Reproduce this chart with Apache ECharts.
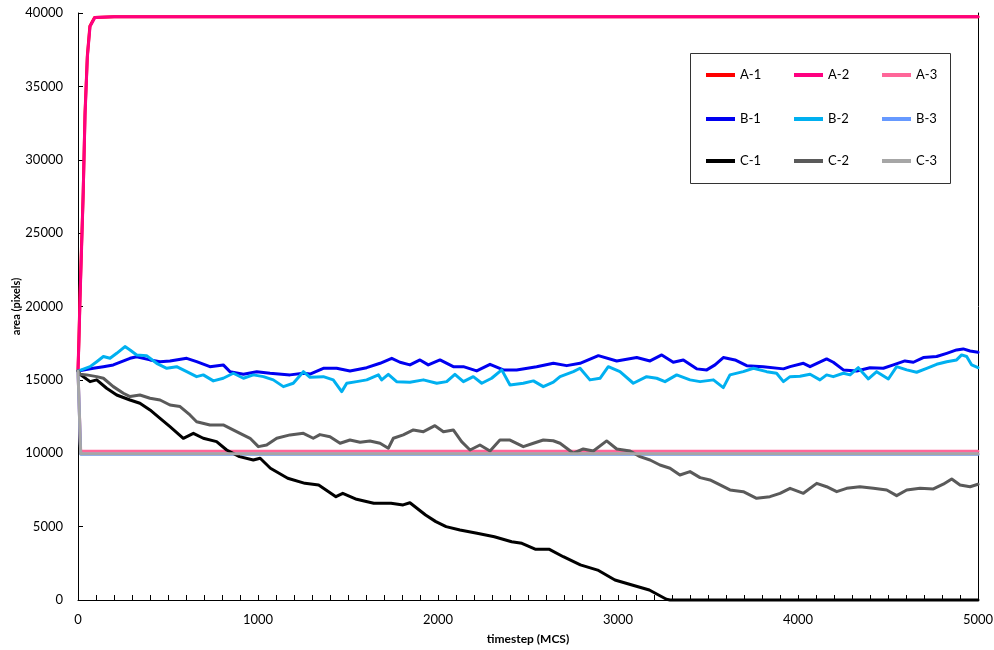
<!DOCTYPE html>
<html>
<head>
<meta charset="utf-8">
<script src="https://cdn.jsdelivr.net/npm/echarts@6/dist/echarts.min.js"></script>
<style>
  html, body { margin: 0; padding: 0; background: #fff; }
  #chart { width: 994px; height: 650px; }
</style>
</head>
<body>
<div id="chart"></div>
<script>
// Cell area (pixels) against timestep (MCS) for nine runs, [timestep, area]
const seriesA1 = [[0,15600],[5,17800],[11,20600],[20,24300],[29,27800],[39,33200],[52,37100],[66,39100],[92,39700],[200,39740],[1000,39740],[2000,39740],[3000,39740],[4000,39740],[5000,39740]];
const seriesA2 = [[0,15600],[5,17500],[11,20400],[20,24000],[28,27300],[39,33000],[52,37000],[67,39100],[94,39700],[200,39740],[1000,39740],[2000,39740],[3000,39740],[4000,39740],[5000,39740]];
const seriesA3 = [[0,15600],[15,10130],[1000,10130],[2000,10130],[3000,10130],[4000,10130],[5000,10130]];
const seriesB1 = [[0,15600],[11,15680],[85,15790],[141,15900],[196,16020],[289,16470],[326,16580],[400,16360],[456,16240],[511,16290],[604,16470],[659,16240],[733,15900],[807,16020],[844,15560],[919,15380],[993,15560],[1067,15450],[1178,15340],[1252,15450],[1289,15400],[1363,15790],[1437,15790],[1511,15610],[1604,15830],[1678,16130],[1743,16470],[1789,16200],[1844,16020],[1900,16360],[1946,16020],[2011,16360],[2085,15900],[2141,15900],[2215,15610],[2289,16060],[2363,15680],[2437,15680],[2548,15900],[2641,16130],[2715,15970],[2789,16130],[2891,16650],[2993,16290],[3104,16520],[3178,16290],[3243,16700],[3307,16200],[3363,16360],[3437,15750],[3493,15680],[3539,16020],[3585,16520],[3650,16360],[3715,15970],[3807,15900],[3919,15750],[3956,15900],[4030,16130],[4067,15900],[4159,16430],[4196,16200],[4252,15680],[4326,15610],[4400,15830],[4474,15790],[4530,16020],[4594,16290],[4641,16200],[4696,16520],[4770,16590],[4826,16810],[4881,17040],[4918,17110],[4956,16970],[5000,16880]];
const seriesB2 = [[0,15600],[11,15680],[67,15900],[104,16240],[141,16590],[178,16470],[215,16810],[261,17270],[289,17040],[326,16700],[381,16650],[437,16130],[493,15790],[548,15900],[604,15560],[659,15220],[696,15340],[752,14930],[807,15110],[863,15450],[919,15110],[974,15340],[1030,15220],[1085,15000],[1141,14540],[1196,14770],[1252,15560],[1289,15180],[1363,15220],[1418,15000],[1465,14200],[1493,14770],[1548,14880],[1604,15000],[1669,15340],[1687,15000],[1724,15380],[1770,14880],[1844,14840],[1919,15000],[1993,14770],[2048,14880],[2094,15380],[2141,14880],[2196,15220],[2243,14770],[2298,15110],[2354,15680],[2400,14650],[2474,14770],[2530,14930],[2585,14540],[2641,14840],[2678,15220],[2752,15560],[2789,15790],[2844,15000],[2900,15110],[2946,15900],[3011,15560],[3085,14770],[3159,15220],[3215,15110],[3261,14880],[3326,15340],[3400,15000],[3456,14880],[3530,15000],[3585,14470],[3622,15340],[3696,15560],[3752,15790],[3826,15560],[3881,15450],[3919,14880],[3956,15220],[4011,15250],[4067,15380],[4122,15000],[4159,15340],[4196,15220],[4252,15450],[4289,15340],[4335,15830],[4391,15060],[4437,15560],[4502,15060],[4548,15900],[4604,15680],[4659,15520],[4715,15790],[4770,16060],[4826,16240],[4881,16360],[4909,16700],[4937,16590],[4965,16020],[5000,15830]];
const seriesB3 = [[0,15600],[15,9930],[1000,9930],[2000,9930],[3000,9930],[4000,9930],[5000,9930]];
const seriesC1 = [[0,15600],[11,15380],[67,14880],[104,15000],[159,14430],[215,13970],[289,13630],[344,13410],[400,12950],[456,12380],[511,11810],[585,11020],[641,11360],[696,11020],[770,10790],[826,10220],[897,9770],[974,9540],[1012,9660],[1069,8980],[1165,8300],[1261,7950],[1337,7840],[1433,7040],[1471,7270],[1548,6860],[1643,6590],[1739,6590],[1806,6480],[1844,6630],[1931,5790],[1988,5340],[2045,5000],[2122,4770],[2217,4550],[2313,4310],[2409,3970],[2466,3860],[2543,3450],[2619,3450],[2696,2950],[2791,2390],[2887,2040],[2983,1360],[3078,1020],[3174,680],[3269,50],[3289,0],[4000,0],[5000,0]];
const seriesC2 = [[0,15600],[11,15380],[48,15340],[104,15220],[141,15110],[196,14540],[252,14090],[289,13860],[344,13970],[400,13750],[456,13630],[511,13290],[567,13180],[622,12610],[659,12150],[733,11930],[807,11930],[881,11470],[956,11020],[1002,10450],[1048,10560],[1104,11020],[1178,11250],[1252,11360],[1307,11020],[1344,11270],[1400,11130],[1456,10680],[1511,10900],[1567,10750],[1622,10840],[1678,10680],[1724,10340],[1752,11020],[1807,11250],[1863,11590],[1919,11470],[1983,11880],[2030,11470],[2085,11590],[2131,10790],[2178,10220],[2233,10560],[2289,10150],[2344,10900],[2400,10900],[2474,10450],[2530,10680],[2585,10900],[2640,10850],[2678,10680],[2752,10000],[2807,10290],[2863,10150],[2937,10840],[2993,10290],[3067,10150],[3122,9770],[3178,9540],[3233,9200],[3289,8980],[3344,8520],[3400,8750],[3456,8340],[3511,8180],[3567,7840],[3622,7500],[3696,7380],[3770,6930],[3844,7040],[3900,7270],[3956,7610],[4030,7270],[4104,7950],[4159,7720],[4215,7380],[4270,7610],[4344,7720],[4419,7610],[4493,7500],[4548,7110],[4604,7500],[4678,7610],[4752,7570],[4807,7890],[4854,8250],[4900,7840],[4956,7720],[5000,7890]];
const seriesC3 = [[0,15600],[15,9960],[1000,9960],[2000,9960],[3000,9960],[4000,9960],[5000,9960]];

const seriesNames = ['A-1', 'A-2', 'A-3', 'B-1', 'B-2', 'B-3', 'C-1', 'C-2', 'C-3'];
const seriesData = [seriesA1, seriesA2, seriesA3, seriesB1, seriesB2, seriesB3, seriesC1, seriesC2, seriesC3];
const legendRows = [['A-1', 'A-2', 'A-3'], ['B-1', 'B-2', 'B-3'], ['C-1', 'C-2', 'C-3']];

const xTicks = { min: 0, max: 5000, interval: 1000 };
const yTicks = { min: 0, max: 40000, interval: 5000 };

// styling
const lineColors = ['#FF0000', '#FF0080', '#FF6699', '#0000F0', '#00B0F0', '#6699FF', '#000000', '#5A5A5A', '#A6A6A6'];
const fontFamily = 'Lato, "Open Sans", sans-serif';
const legendRowTops = [67, 111, 153];

const plainNumber = v => String(v);

const chart = echarts.init(document.getElementById('chart'), null, { renderer: 'canvas' });

const series = seriesNames.map((name, i) => ({
  name: name,
  type: 'line',
  data: seriesData[i],
  showSymbol: false,
  symbol: 'none',
  clip: false,
  itemStyle: { color: lineColors[i] },
  lineStyle: { color: lineColors[i], width: 3, join: 'round', cap: 'round' },
  emphasis: { disabled: true },
  z: 2
}));

const legends = legendRows.map((row, r) => ({
  data: row,
  orient: 'horizontal',
  left: 706,
  top: legendRowTops[r],
  padding: 0,
  icon: 'rect',
  itemWidth: 29,
  itemHeight: 4,
  itemGap: 10,
  selectedMode: false,
  itemStyle: { borderWidth: 0 },
  textStyle: { fontFamily: fontFamily, fontSize: 13, color: '#000', width: 44, lineHeight: 16 }
}));

chart.setOption({
  animation: false,
  backgroundColor: '#fff',
  grid: { left: 78, right: 16, top: 13, bottom: 50, containLabel: false, outerBoundsMode: 'none' },
  legend: legends,
  xAxis: {
    type: 'value',
    min: xTicks.min,
    max: xTicks.max,
    interval: xTicks.interval,
    name: 'timestep (MCS)',
    nameLocation: 'middle',
    nameGap: 33,
    nameMoveOverlap: false,
    nameTextStyle: { fontFamily: fontFamily, fontSize: 12, fontWeight: 'bold', color: '#000' },
    axisLine: { show: true, onZero: false, lineStyle: { color: '#000', width: 1 } },
    axisTick: { show: true, inside: true, length: 5, lineStyle: { color: '#000' } },
    minorTick: { show: true, splitNumber: 10, length: 5, lineStyle: { color: '#000' } },
    axisLabel: { fontFamily: fontFamily, fontSize: 13, color: '#000', margin: 13, formatter: plainNumber },
    splitLine: { show: false }
  },
  yAxis: [{
    type: 'value',
    min: yTicks.min,
    max: yTicks.max,
    interval: yTicks.interval,
    name: 'area (pixels)',
    nameLocation: 'middle',
    nameGap: 56,
    nameMoveOverlap: false,
    nameRotate: 90,
    nameTextStyle: { fontFamily: fontFamily, fontSize: 11, fontWeight: 'bold', color: '#000' },
    axisLine: { show: true, onZero: false, lineStyle: { color: '#000', width: 1 } },
    axisTick: { show: true, inside: true, length: 5, lineStyle: { color: '#000' } },
    axisLabel: { fontFamily: fontFamily, fontSize: 13, color: '#000', margin: 15, formatter: plainNumber },
    splitLine: { show: false }
  }, {
    type: 'value',
    position: 'right',
    min: yTicks.min,
    max: yTicks.max,
    interval: yTicks.interval,
    axisLine: { show: true, onZero: false, lineStyle: { color: '#000', width: 1 } },
    axisTick: { show: false },
    axisLabel: { show: false },
    splitLine: { show: false }
  }],
  graphic: [{
    type: 'rect',
    shape: { x: 690.5, y: 53.5, width: 260, height: 130 },
    style: { fill: 'transparent', stroke: '#333', lineWidth: 1 },
    silent: true
  }],
  series: series
});
</script>
</body>
</html>
